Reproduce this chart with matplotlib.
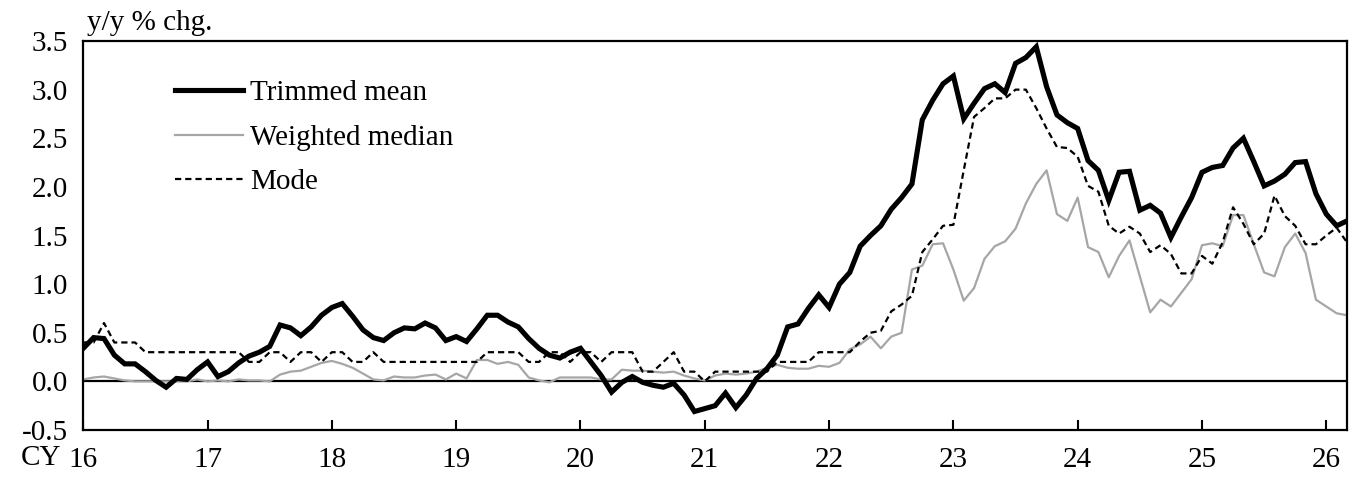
import numpy as np
import matplotlib
matplotlib.use("Agg")
import matplotlib.pyplot as plt

plt.rcParams['font.family'] = ['Liberation Serif', 'DejaVu Serif']

# monthly, Jan 2016 - Mar 2026, y/y % chg.
trimmed_mean = [
    0.34, 0.45, 0.44, 0.27, 0.18, 0.18, 0.10, 0.01, -0.06, 0.03, 0.02, 0.12,
    0.20, 0.05, 0.10, 0.19, 0.26, 0.30, 0.36, 0.58, 0.55, 0.47, 0.56, 0.68,
    0.76, 0.80, 0.67, 0.53, 0.45, 0.42, 0.50, 0.55, 0.54, 0.60, 0.55, 0.42,
    0.46, 0.41, 0.54, 0.68, 0.68, 0.61, 0.56, 0.44, 0.34, 0.27, 0.24, 0.30,
    0.34, 0.20, 0.06, -0.11, -0.01, 0.05, -0.01, -0.04, -0.06, -0.02, -0.14, -0.31,
    -0.28, -0.25, -0.12, -0.27, -0.14, 0.03, 0.13, 0.27, 0.56, 0.59, 0.75, 0.89,
    0.76, 1.00, 1.12, 1.39, 1.50, 1.60, 1.77, 1.89, 2.03, 2.69, 2.89, 3.06,
    3.14, 2.70, 2.86, 3.01, 3.06, 2.97, 3.27, 3.33, 3.44, 3.03, 2.74, 2.66,
    2.60, 2.27, 2.17, 1.86, 2.15, 2.16, 1.76, 1.81, 1.73, 1.48, 1.69, 1.89,
    2.15, 2.20, 2.22, 2.40, 2.50, 2.26, 2.01, 2.06, 2.13, 2.25, 2.26, 1.93,
    1.72, 1.60, 1.65,
]
weighted_median = [
    0.02, 0.04, 0.05, 0.03, 0.01, 0.00, 0.00, 0.00, 0.00, 0.00, 0.00, 0.02,
    0.00, 0.01, 0.00, 0.02, 0.01, 0.01, 0.00, 0.07, 0.10, 0.11, 0.15, 0.19,
    0.21, 0.18, 0.14, 0.08, 0.02, 0.01, 0.05, 0.04, 0.04, 0.06, 0.07, 0.02,
    0.08, 0.03, 0.22, 0.22, 0.18, 0.20, 0.17, 0.04, 0.01, -0.01, 0.04, 0.04,
    0.04, 0.04, 0.02, 0.02, 0.12, 0.11, 0.11, 0.10, 0.09, 0.10, 0.06, 0.03,
    0.01, 0.06, 0.08, 0.07, 0.08, 0.10, 0.14, 0.17, 0.14, 0.13, 0.13, 0.16,
    0.15, 0.19, 0.33, 0.38, 0.46, 0.34, 0.46, 0.50, 1.15, 1.19, 1.41, 1.42,
    1.15, 0.83, 0.96, 1.26, 1.39, 1.44, 1.57, 1.83, 2.03, 2.17, 1.72, 1.65,
    1.89, 1.38, 1.33, 1.07, 1.29, 1.45, 1.08, 0.71, 0.84, 0.77, 0.91, 1.05,
    1.40, 1.42, 1.39, 1.71, 1.71, 1.41, 1.12, 1.08, 1.38, 1.52, 1.32, 0.84,
    0.77, 0.70, 0.68,
]
mode = [
    0.4, 0.4, 0.6, 0.4, 0.4, 0.4, 0.3, 0.3, 0.3, 0.3, 0.3, 0.3,
    0.3, 0.3, 0.3, 0.3, 0.2, 0.2, 0.3, 0.3, 0.2, 0.3, 0.3, 0.2,
    0.3, 0.3, 0.2, 0.2, 0.3, 0.2, 0.2, 0.2, 0.2, 0.2, 0.2, 0.2,
    0.2, 0.2, 0.2, 0.3, 0.3, 0.3, 0.3, 0.2, 0.2, 0.3, 0.3, 0.2,
    0.3, 0.3, 0.2, 0.3, 0.3, 0.3, 0.1, 0.1, 0.2, 0.3, 0.1, 0.1,
    0.0, 0.1, 0.1, 0.1, 0.1, 0.1, 0.1, 0.2, 0.2, 0.2, 0.2, 0.3,
    0.3, 0.3, 0.3, 0.41, 0.50, 0.52, 0.72, 0.79, 0.88, 1.33, 1.46, 1.60,
    1.61, 2.17, 2.72, 2.81, 2.91, 2.91, 3.00, 3.00, 2.81, 2.60, 2.41, 2.40,
    2.31, 2.01, 1.95, 1.60, 1.52, 1.59, 1.52, 1.33, 1.40, 1.31, 1.11, 1.11,
    1.29, 1.21, 1.43, 1.79, 1.62, 1.41, 1.52, 1.91, 1.70, 1.60, 1.41, 1.41,
    1.50, 1.58, 1.43,
]
year_labels = ['16', '17', '18', '19', '20', '21', '22', '23', '24', '25', '26']

x = np.arange(len(trimmed_mean))

fig = plt.figure(figsize=(13.52, 4.79), dpi=100)
ax = fig.add_axes([0.0616, 0.1023, 0.9347, 0.8121])

ax.axhline(0, color='black', lw=1.6, zorder=1)
ax.plot(x, trimmed_mean, color='black', lw=3.7, label='Trimmed mean', zorder=4,
        solid_joinstyle='miter')
ax.plot(x, weighted_median, color='#a6a6a6', lw=1.6, label='Weighted median', zorder=2)
ax.plot(x, mode, color='black', lw=1.6, ls=(0, (2.8, 1.8)), label='Mode', zorder=3)

ax.set_xlim(0, len(x) - 1)
ax.set_ylim(-0.5, 3.5)
ax.set_xticks(np.arange(0, 121, 12))
ax.set_xticklabels(year_labels)
ax.set_yticks(np.arange(-0.5, 3.51, 0.5))
ax.set_yticklabels(['%.1f' % v for v in np.arange(-0.5, 3.51, 0.5)])

ax.tick_params(axis='x', direction='in', length=7, width=1.5, pad=12, labelsize=21)
ax.tick_params(axis='y', length=0, pad=11, labelsize=21)
for s in ax.spines.values():
    s.set_linewidth(1.6)

fig.text(87 / 1352, 1 - 23 / 479, 'y/y % chg.', fontsize=21, va='center', ha='left')
fig.text(21 / 1352, 1 - 458 / 479, 'CY', fontsize=21, va='center', ha='left')

ax.legend(loc='upper left', bbox_to_anchor=(0.063, 0.93), frameon=False, fontsize=21,
          handlelength=2.35, handletextpad=0.25, labelspacing=0.62, borderaxespad=0)

fig.savefig('out.png', dpi=100)
